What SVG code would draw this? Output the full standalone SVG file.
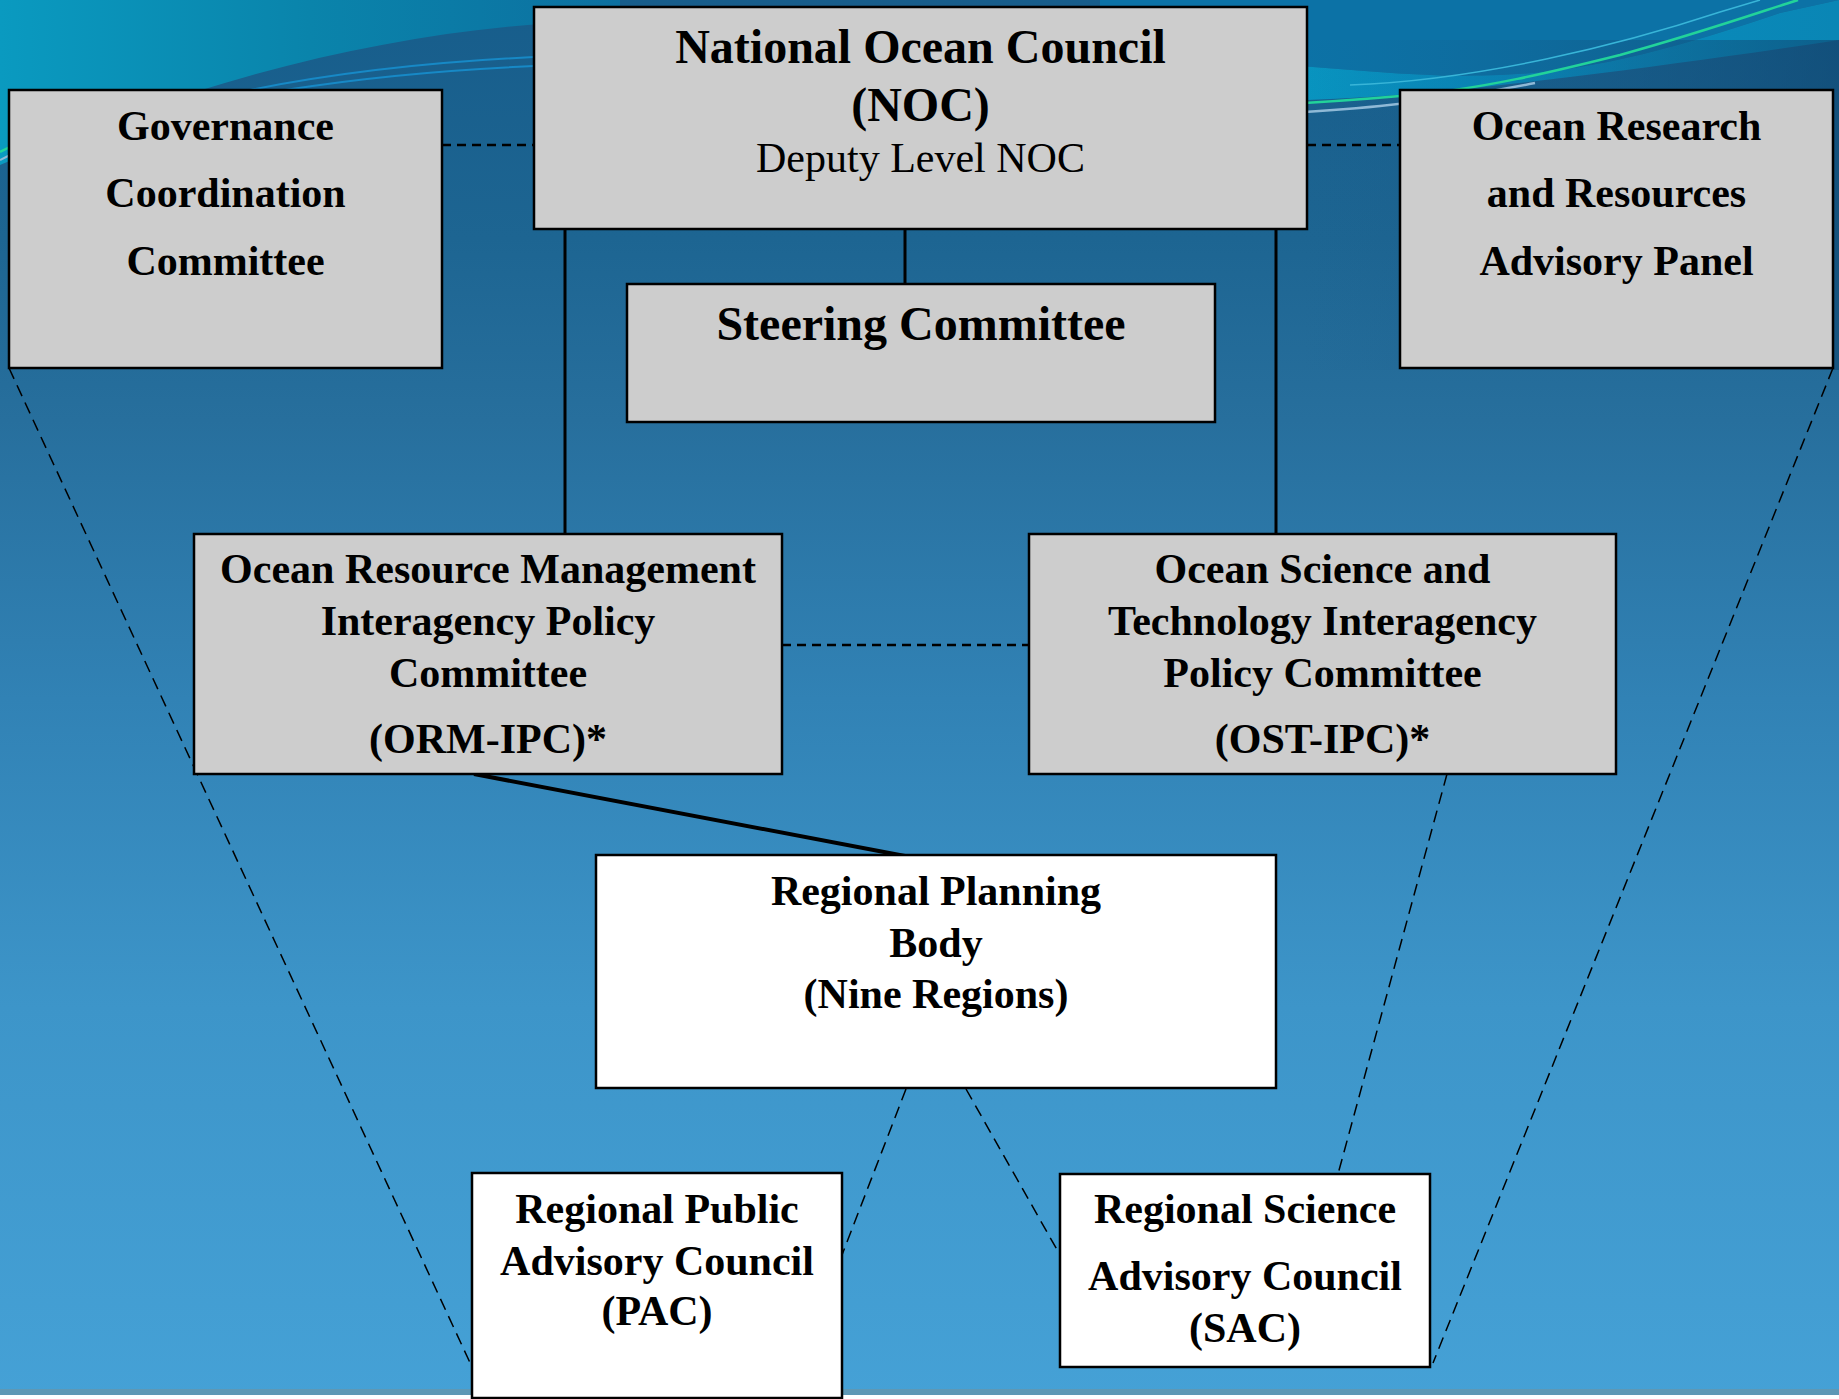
<svg xmlns="http://www.w3.org/2000/svg" width="1839" height="1399" viewBox="0 0 1839 1399">
<defs>
<linearGradient id="bg" x1="0" y1="0" x2="0" y2="1">
<stop offset="0" stop-color="#175d8b"/>
<stop offset="0.17" stop-color="#1d6592"/>
<stop offset="0.3" stop-color="#276f9d"/>
<stop offset="0.5" stop-color="#3182b5"/>
<stop offset="0.72" stop-color="#3d95c9"/>
<stop offset="1" stop-color="#45a1d6"/>
</linearGradient>
<linearGradient id="tl" x1="0" y1="0" x2="1" y2="0">
<stop offset="0" stop-color="#0a9ac0"/>
<stop offset="0.5" stop-color="#0a84ab"/>
<stop offset="1" stop-color="#0c70a0"/>
</linearGradient>
<linearGradient id="band" x1="0" y1="0" x2="1" y2="0">
<stop offset="0" stop-color="#0a9cbf"/>
<stop offset="0.5" stop-color="#078ec0"/>
<stop offset="1" stop-color="#0a86b5"/>
</linearGradient>
<linearGradient id="rdark" x1="0" y1="0" x2="1" y2="0">
<stop offset="0" stop-color="#1a5e8c" stop-opacity="0"/>
<stop offset="1" stop-color="#0e4670"/>
</linearGradient>
<style>
.box{fill:#cdcdcd;stroke:#000;stroke-width:2.5}
.wbox{fill:#fff;stroke:#000;stroke-width:2.5}
.t{font-family:"Liberation Serif","Times New Roman",serif;font-weight:bold;font-size:42px;text-anchor:middle;fill:#000}
.big{font-size:48px}
.reg{font-weight:normal}
.solid{stroke:#000;stroke-width:3;fill:none}
.thick{stroke-width:4}
.dash{stroke:#000;stroke-width:2.5;stroke-dasharray:9 6;fill:none}
.ldash{stroke:#000;stroke-width:1.5;stroke-dasharray:12 7;fill:none}
</style>
</defs>

<g id="background">
<rect x="0" y="0" width="1839" height="1399" fill="url(#bg)"/>
<path d="M0,0 H1839 V0 L1839,0 Z" fill="none"/>
<path d="M0,0 H620 V20 C420,24 220,70 0,165 Z" fill="url(#tl)"/>
<path d="M1100,0 H1839 L1780,13 C1700,40 1600,72 1500,75 C1420,78 1360,70 1300,66 L1100,55 Z" fill="#0c72a6"/>
<path d="M1100,55 L1300,66 C1360,70 1420,78 1500,75 C1600,72 1700,40 1780,13 L1839,0 V40 C1760,52 1660,66 1570,77 C1480,88 1400,97 1307,100 L1100,110 Z" fill="url(#band)"/>
<rect x="1300" y="40" width="539" height="330" fill="url(#rdark)" opacity="0.6"/>
<path d="M1100,112 C1200,108 1300,105 1400,96 C1480,90 1560,70 1620,55 C1700,33 1760,12 1798,0" fill="none" stroke="#22d39a" stroke-width="2.5"/>
<path d="M1100,122 C1200,118 1300,114 1380,106 C1450,99 1500,90 1535,83" fill="none" stroke="#8fb9d6" stroke-width="2.5"/>
<path d="M1350,85 C1480,80 1620,45 1720,12 L1760,0" fill="none" stroke="#38b5d8" stroke-width="1.5"/>
<path d="M250,90 C350,70 450,60 560,56" fill="none" stroke="#1789c6" stroke-width="2"/>
<path d="M285,90 C380,75 470,68 560,65" fill="none" stroke="#1789c6" stroke-width="2"/>
<path d="M0,152 C4,150 8,148 12,146" fill="none" stroke="#22d39a" stroke-width="2.5"/>
<path d="M0,160 C4,158 8,156 12,154" fill="none" stroke="#8fb9d6" stroke-width="2"/>
<rect x="0" y="1389" width="1839" height="6" fill="#5e98b5"/>
<rect x="0" y="1395" width="1839" height="4" fill="#ffffff"/>
</g>

<g id="connectors">
<line class="dash" x1="442" y1="145" x2="534" y2="145"/>
<line class="dash" x1="1307" y1="145" x2="1400" y2="145"/>
<line class="solid" x1="565" y1="229" x2="565" y2="534"/>
<line class="solid" x1="905" y1="229" x2="905" y2="284"/>
<line class="solid" x1="1276" y1="229" x2="1276" y2="534"/>
<line class="dash" x1="782" y1="645" x2="1029" y2="645"/>
<line class="solid thick" x1="474" y1="774" x2="905" y2="856"/>
<line class="ldash" x1="9" y1="368" x2="472" y2="1367"/>
<line class="ldash" x1="1833" y1="368" x2="1433" y2="1363"/>
<line class="ldash" x1="1447" y1="774" x2="1338" y2="1174"/>
<line class="ldash" x1="906" y1="1089" x2="842" y2="1255"/>
<line class="ldash" x1="966" y1="1089" x2="1060" y2="1255"/>
</g>

<g id="noc">
<rect class="box" x="534" y="7" width="773" height="222"/>
<text class="t big" x="920.5" y="63">National Ocean Council</text>
<text class="t big" x="920.5" y="121">(NOC)</text>
<text class="t reg" x="920.5" y="172">Deputy Level NOC</text>
</g>

<g id="governance">
<rect class="box" x="9" y="90" width="433" height="278"/>
<text class="t" x="225.5" y="140">Governance</text>
<text class="t" x="225.5" y="207">Coordination</text>
<text class="t" x="225.5" y="275">Committee</text>
</g>

<g id="ocean-research">
<rect class="box" x="1400" y="90" width="433" height="278"/>
<text class="t" x="1616.5" y="140">Ocean Research</text>
<text class="t" x="1616.5" y="207">and Resources</text>
<text class="t" x="1616.5" y="275">Advisory Panel</text>
</g>

<g id="steering">
<rect class="box" x="627" y="284" width="588" height="138"/>
<text class="t big" x="921" y="340">Steering Committee</text>
</g>

<g id="orm-ipc">
<rect class="box" x="194" y="534" width="588" height="240"/>
<text class="t" x="488" y="583">Ocean Resource Management</text>
<text class="t" x="488" y="635">Interagency Policy</text>
<text class="t" x="488" y="687">Committee</text>
<text class="t" x="488" y="753">(ORM-IPC)*</text>
</g>

<g id="ost-ipc">
<rect class="box" x="1029" y="534" width="587" height="240"/>
<text class="t" x="1322.5" y="583">Ocean Science and</text>
<text class="t" x="1322.5" y="635">Technology Interagency</text>
<text class="t" x="1322.5" y="687">Policy Committee</text>
<text class="t" x="1322.5" y="753">(OST-IPC)*</text>
</g>

<g id="rpb">
<rect class="wbox" x="596" y="855" width="680" height="233"/>
<text class="t" x="936" y="905">Regional Planning</text>
<text class="t" x="936" y="957">Body</text>
<text class="t" x="936" y="1008">(Nine Regions)</text>
</g>

<g id="pac">
<rect class="wbox" x="472" y="1173" width="370" height="225"/>
<text class="t" x="657" y="1223">Regional Public</text>
<text class="t" x="657" y="1275">Advisory Council</text>
<text class="t" x="657" y="1325">(PAC)</text>
</g>

<g id="sac">
<rect class="wbox" x="1060" y="1174" width="370" height="193"/>
<text class="t" x="1245" y="1223">Regional Science</text>
<text class="t" x="1245" y="1290">Advisory Council</text>
<text class="t" x="1245" y="1342">(SAC)</text>
</g>
</svg>
